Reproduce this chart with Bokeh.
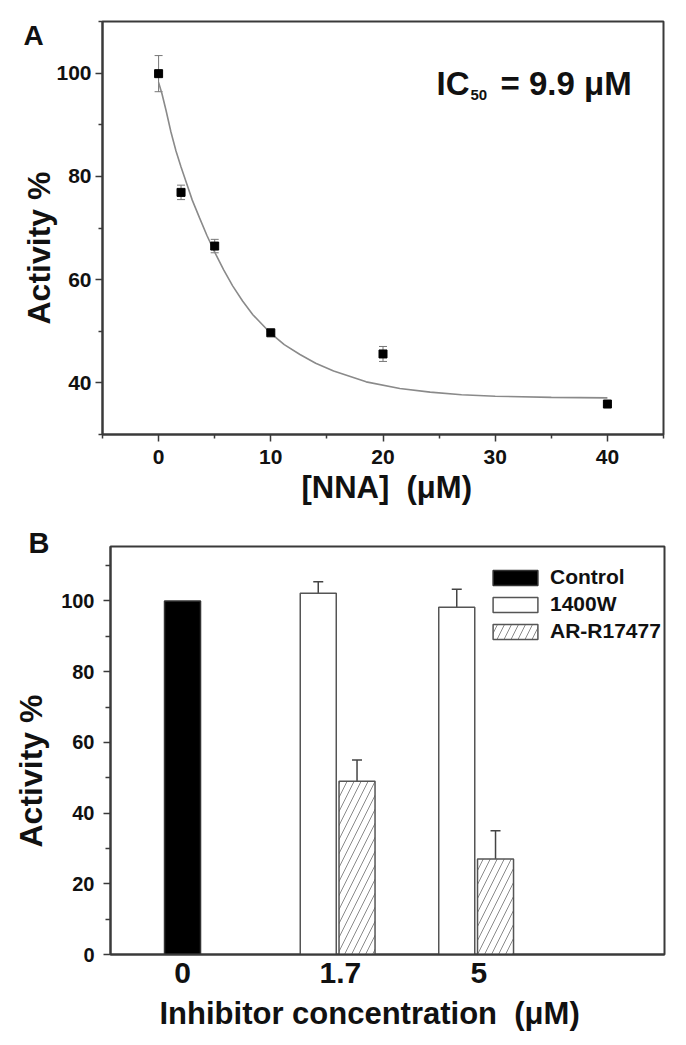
from math import pi
from bokeh.plotting import figure
from bokeh.models import (Range1d, FixedTicker, Label, Whisker, TeeHead, Title,
                          ColumnDataSource, Legend, LegendItem)
from bokeh.layouts import column
from bokeh.embed import file_html
from bokeh.resources import INLINE

# ---------------- Panel A data ----------------
nna_conc = [0, 2, 5, 10, 20, 40]
nna_activity = [99.9, 76.9, 66.5, 49.7, 45.6, 35.9]
nna_err = [3.5, 1.4, 1.3, 0.3, 1.45, 0.3]
# fitted curve
fit_x = [0.0, 0.3, 0.66, 1.1, 1.55, 2.0, 2.5, 3.0, 3.64, 4.3, 4.98, 5.8, 6.6,
         7.5, 8.4, 9.9, 11.2, 12.6, 14.0, 15.6, 18.5, 21.5, 24.2, 27.0, 30.0,
         35.0, 40.0]
fit_y = [98.2, 96.0, 92.8, 88.6, 84.9, 81.8, 78.6, 75.4, 72.0, 68.6, 65.4, 61.9,
         58.8, 55.8, 53.2, 49.8, 47.4, 45.5, 43.8, 42.3, 40.2, 38.9, 38.2, 37.7,
         37.4, 37.2, 37.1]
a_xticks = [0, 10, 20, 30, 40]
a_yticks = [40, 60, 80, 100]

# ---------------- Panel B data ----------------
inhib_labels = ["0", "1.7", "5"]
control_vals = [100.0]            # at "0"
w1400_vals = [102.2, 98.2]        # at "1.7", "5"
w1400_err = [3.2, 5.1]
ar_vals = [49.0, 27.0]            # at "1.7", "5"
ar_err = [6.0, 8.0]
b_yticks = [0, 20, 40, 60, 80, 100]

FONT = "Liberation Sans"
AXC = "#3a3a3a"
TXT = "#111111"


def style_axes(p):
    for ax in [p.xaxis[0], p.yaxis[0]]:
        ax.axis_line_color = AXC
        ax.axis_line_width = 2
        ax.major_tick_line_color = AXC
        ax.minor_tick_line_color = AXC
        ax.major_tick_line_width = 1.5
        ax.minor_tick_line_width = 1.5
        ax.major_tick_in = 0
        ax.minor_tick_in = 0
        ax.major_label_text_font = FONT
        ax.major_label_text_font_style = "bold"
        ax.major_label_text_color = TXT
    p.outline_line_color = AXC
    p.outline_line_width = 2
    p.grid.visible = False


def add_text(p, x, y, text, size, align="left", baseline="alphabetic"):
    p.add_layout(Label(x=x, y=y, x_units="screen", y_units="screen", text=text,
                       text_font=FONT, text_font_size=size, text_font_style="bold",
                       text_color=TXT, text_align=align, text_baseline=baseline))


def side_title(p, side, text, size, offset, standoff, valign):
    p.add_layout(Title(text=text, align="left", offset=offset, standoff=standoff,
                       vertical_align=valign, text_font=FONT, text_font_size=size,
                       text_font_style="bold", text_color=TXT), side)


def panel_letter(p, letter, offset, standoff, size):
    t = p.title
    t.text = letter
    t.align = "left"
    t.offset = offset
    t.standoff = standoff
    t.vertical_align = "bottom"
    t.text_font = FONT
    t.text_font_size = size
    t.text_font_style = "bold"
    t.text_color = TXT


# ================= Panel A =================
pA = figure(width=686, height=528, output_backend="svg", toolbar_location=None,
            x_range=Range1d(-5, 45), y_range=Range1d(30, 110),
            min_border_left=102, min_border_right=23, min_border_top=21,
            min_border_bottom=94, background_fill_color="white",
            border_fill_color="white", frame_align=False)
style_axes(pA)
pA.xaxis[0].ticker = FixedTicker(ticks=a_xticks, minor_ticks=[-5, 5, 15, 25, 35, 45])
pA.yaxis[0].ticker = FixedTicker(ticks=a_yticks, minor_ticks=[30, 50, 70, 90, 110])
pA.xaxis[0].major_tick_out = 7
pA.xaxis[0].minor_tick_out = 4
pA.yaxis[0].major_tick_out = 7
pA.yaxis[0].minor_tick_out = 4
pA.xaxis[0].major_label_text_font_size = "21px"
pA.yaxis[0].major_label_text_font_size = "21px"
pA.xaxis[0].major_label_standoff = 8
pA.yaxis[0].major_label_standoff = 4

pA.line(fit_x, fit_y, line_color="#8a8a8a", line_width=1.6)
srcA = ColumnDataSource(dict(x=nna_conc, y=nna_activity,
                             lo=[v - e for v, e in zip(nna_activity, nna_err)],
                             hi=[v + e for v, e in zip(nna_activity, nna_err)]))
pA.add_layout(Whisker(source=srcA, base="x", lower="lo", upper="hi",
                      dimension="height", line_color="#777777", line_width=1,
                      upper_head=TeeHead(size=8, line_color="#777777", line_width=1),
                      lower_head=TeeHead(size=8, line_color="#777777", line_width=1)))
pA.scatter("x", "y", source=srcA, marker="square", size=8,
           fill_color="black", line_color="black")

add_text(pA, 334, 351, "IC", "33px")
add_text(pA, 368, 340, "50", "15px")
add_text(pA, 398, 351, "= 9.9 \u03bcM", "33px")

side_title(pA, "left", "Activity %", "32px", offset=110, standoff=-6, valign="bottom")
side_title(pA, "below", "[NNA]\u00a0 (\u03bcM)", "31px", offset=199, standoff=6, valign="top")
panel_letter(pA, "A", offset=-79, standoff=-58, size="28px")

# ================= Panel B =================
pB = figure(width=686, height=516, output_backend="svg", toolbar_location=None,
            x_range=Range1d(0.5, 4.5), y_range=Range1d(0, 115.4),
            min_border_left=110, min_border_right=22, min_border_top=18,
            min_border_bottom=90, background_fill_color="white",
            border_fill_color="white", frame_align=False)
style_axes(pB)
group_pos = [1 + i for i in range(len(inhib_labels))]
tick_pos = [group_pos[0] + 0.02] + [g + 0.16 for g in group_pos[1:]]
pB.xaxis[0].ticker = FixedTicker(ticks=tick_pos, minor_ticks=[])
pB.xaxis[0].major_label_overrides = {t: lab for t, lab in zip(tick_pos, inhib_labels)}
pB.xaxis[0].major_tick_out = 0
pB.xaxis[0].minor_tick_out = 0
pB.xaxis[0].major_label_text_font_size = "30px"
pB.xaxis[0].major_label_standoff = 8
pB.yaxis[0].ticker = FixedTicker(ticks=b_yticks, minor_ticks=[10, 30, 50, 70, 90, 110])
pB.yaxis[0].major_tick_out = 7
pB.yaxis[0].minor_tick_out = 5
pB.yaxis[0].major_label_text_font_size = "20px"
pB.yaxis[0].major_label_standoff = 9

BW = 0.26
ctrl_x = [group_pos[0] + 0.02]
w_x = [g for g in group_pos[1:]]
ar_x = [g + 0.28 for g in group_pos[1:]]

r_ctrl = pB.vbar(x=ctrl_x, top=control_vals, width=BW, bottom=0,
                 fill_color="black", line_color="#333333", line_width=1.5)
r_w = pB.vbar(x=w_x, top=w1400_vals, width=BW, bottom=0,
              fill_color="white", line_color="#555555", line_width=1.5)
r_ar = pB.vbar(x=ar_x, top=ar_vals, width=BW, bottom=0,
               fill_color="white", line_color="#555555", line_width=1.5,
               hatch_pattern="/", hatch_color="#8a8a8a", hatch_scale=14,
               hatch_weight=1)

for xs, vals, errs in [(w_x, w1400_vals, w1400_err), (ar_x, ar_vals, ar_err)]:
    src = ColumnDataSource(dict(x=xs, lo=vals,
                                hi=[v + e for v, e in zip(vals, errs)]))
    pB.add_layout(Whisker(source=src, base="x", lower="lo", upper="hi",
                          dimension="height", line_color="#444444", line_width=1.5,
                          upper_head=TeeHead(size=10, line_color="#444444", line_width=1.5),
                          lower_head=None))

legend = Legend(items=[LegendItem(label="Control", renderers=[r_ctrl]),
                       LegendItem(label="1400W", renderers=[r_w]),
                       LegendItem(label="AR-R17477", renderers=[r_ar])],
                location=(377, 311), padding=0, spacing=3,
                glyph_width=56, glyph_height=19, label_height=19,
                label_standoff=7, border_line_color=None,
                background_fill_alpha=0,
                label_text_font=FONT, label_text_font_size="21px",
                label_text_font_style="bold", label_text_color=TXT)
pB.add_layout(legend, "center")

side_title(pB, "left", "Activity %", "32px", offset=107, standoff=20, valign="bottom")
side_title(pB, "below", "Inhibitor concentration\u00a0 (\u03bcM)", "31px", offset=49,
           standoff=21, valign="top")
panel_letter(pB, "B", offset=-82, standoff=-24, size="29px")

layout = column(pA, pB)
open("out.html", "w").write(file_html(layout, INLINE))
